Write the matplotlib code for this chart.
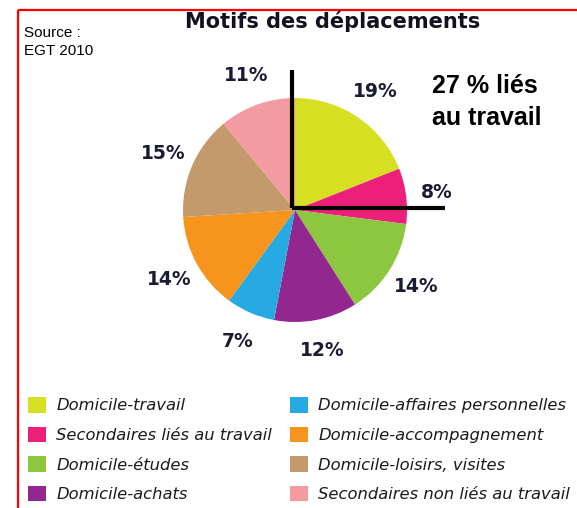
import matplotlib
matplotlib.use("Agg")
import matplotlib.pyplot as plt

# données (EGT 2010)
motifs = [
    "Domicile-travail",
    "Secondaires liés au travail",
    "Domicile-études",
    "Domicile-achats",
    "Domicile-affaires personnelles",
    "Domicile-accompagnement",
    "Domicile-loisirs, visites",
    "Secondaires non liés au travail",
]
parts = [19, 8, 14, 12, 7, 14, 15, 11]
couleurs = ["#d7df23", "#ec1f7b", "#8dc63f", "#92278f",
            "#27aae1", "#f7941d", "#c49a6c", "#f49aa1"]
etiquettes = [f"{p}%" for p in parts]

W, H = 577, 508
fig = plt.figure(figsize=(W / 100, H / 100), dpi=100)
ax = fig.add_axes([0, 0, 1, 1])

# centre et rayon du camembert en pixels (y compté depuis le bas)
cx, cy, r = 295, H - 210, 112

wedges, textes = ax.pie(
    parts, colors=couleurs, labels=etiquettes, startangle=90,
    counterclock=False, center=(cx, cy), radius=r, labeldistance=1.28,
    wedgeprops=dict(linewidth=0),
    textprops=dict(fontsize=13.5, fontweight="bold", color="#1a1a33",
                   family="DejaVu Sans", ha="center", va="center"),
)
ax.set_xlim(0, W)
ax.set_ylim(0, H)
ax.set_aspect("equal")
ax.axis("off")

# traits noirs : 27 % liés au travail
ax.plot([cx - 3, cx - 3], [cy + 2, cy + 1.25 * r], color="black", lw=3,
        solid_capstyle="butt")
ax.plot([cx - 3, cx + 1.34 * r], [cy + 2, cy + 2], color="black", lw=3,
        solid_capstyle="butt")

# cadre rouge
ax.plot([17.5, 17.5], [0, H - 10], color="red", lw=1.6, solid_capstyle="butt")
ax.plot([17.5, W], [H - 10, H - 10], color="red", lw=1.6, solid_capstyle="butt")

ax.text(333, H - 28, "Motifs des déplacements", fontsize=15, fontweight="bold",
        color="#111122", family="DejaVu Sans", ha="center", va="baseline")
ax.text(24, H - 55, "Source :\nEGT 2010", fontsize=11, family="Liberation Sans",
        ha="left", va="baseline", linespacing=1.35, color="black")
ax.text(432, H - 125, "27 % liés\nau travail", fontsize=18, fontweight="bold",
        family="Liberation Sans", ha="left", va="baseline", linespacing=1.4,
        color="black")

leg = fig.legend(
    wedges, motifs, ncol=2, loc="upper left",
    bbox_to_anchor=(28 / W, 1 - 397 / H), frameon=False,
    borderpad=0, borderaxespad=0, handlelength=1.1, handleheight=1.1,
    handletextpad=0.62, labelspacing=0.8, columnspacing=1.1,
    prop=dict(family="DejaVu Sans", style="oblique", size=11.8),
)
for t in leg.get_texts():
    t.set_color("#1a1a1a")

fig.savefig("out.png", dpi=100)
